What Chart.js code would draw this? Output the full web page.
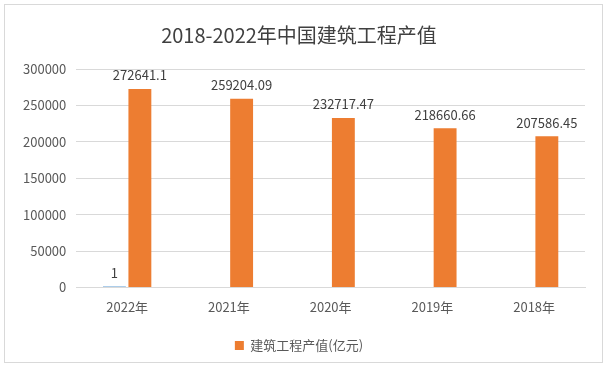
<!DOCTYPE html>
<html>
<head>
<meta charset="utf-8">
<script src="https://cdn.jsdelivr.net/npm/chart.js@4/dist/chart.umd.min.js"></script>
<style>
  html, body { margin: 0; padding: 0; background: #fff; }
  #box { position: absolute; left: 4px; top: 4px; width: 597px; height: 357px; border: 1px solid #d9d9d9; }
</style>
</head>
<body>
<div id="box"><canvas id="c" width="597" height="357"></canvas></div>
<script>
const categories = ["2022年", "2021年", "2020年", "2019年", "2018年"];
const headerValues = [1, null, null, null, null];
const outputValues = [272641.1, 259204.09, 232717.47, 218660.66, 207586.45];
const yTicks = [0, 50000, 100000, 150000, 200000, 250000, 300000];

const fontFamily = "'Noto Sans CJK SC', 'Noto Sans', sans-serif";

const barLabels = {
  id: "barLabels",
  afterDatasetsDraw(chart) {
    const { ctx } = chart;
    ctx.save();
    ctx.font = "13px " + fontFamily;
    ctx.fillStyle = "#404040";
    ctx.textAlign = "center";
    ctx.textBaseline = "bottom";
    chart.data.datasets.forEach((ds, i) => {
      chart.getDatasetMeta(i).data.forEach((bar, j) => {
        if (ds.data[j] == null) return;
        ctx.fillText(String(ds.data[j]), bar.x, bar.y - 7);
      });
    });
    ctx.restore();
  },
};

new Chart(document.getElementById("c"), {
  type: "bar",
  data: {
    labels: categories,
    datasets: [
      {
        label: "",
        data: headerValues,
        backgroundColor: "#5B9BD5",
        minBarLength: 1,
      },
      {
        label: "建筑工程产值(亿元)",
        data: outputValues,
        backgroundColor: "#ED7D31",
      },
    ],
  },
  options: {
    responsive: false,
    animation: false,
    layout: { padding: { left: 8, right: 17, top: 0, bottom: 0 } },
    datasets: { bar: { categoryPercentage: 0.5, barPercentage: 0.9 } },
    scales: {
      x: {
        grid: { display: false },
        border: { color: "#d9d9d9" },
        ticks: { color: "#595959", font: { size: 13, family: fontFamily }, padding: 4 },
      },
      y: {
        min: 0,
        max: 300000,
        afterBuildTicks(axis) { axis.ticks = yTicks.map((v) => ({ value: v })); },
        grid: { color: "#d9d9d9", drawTicks: false },
        border: { display: false },
        ticks: {
          color: "#595959",
          font: { size: 13, family: fontFamily },
          padding: 10,
          callback: (v) => String(v),
        },
      },
    },
    plugins: {
      title: {
        display: true,
        text: "2018-2022年中国建筑工程产值",
        color: "#404040",
        font: { size: 20, weight: "normal", family: fontFamily },
        padding: { top: 18, bottom: 22 },
      },
      legend: {
        position: "bottom",
        labels: {
          filter: (item) => item.datasetIndex === 1,
          boxWidth: 9,
          boxHeight: 9,
          color: "#595959",
          font: { size: 13, family: fontFamily },
          padding: 20,
        },
      },
      tooltip: { enabled: false },
    },
  },
  plugins: [barLabels],
});
</script>
</body>
</html>
